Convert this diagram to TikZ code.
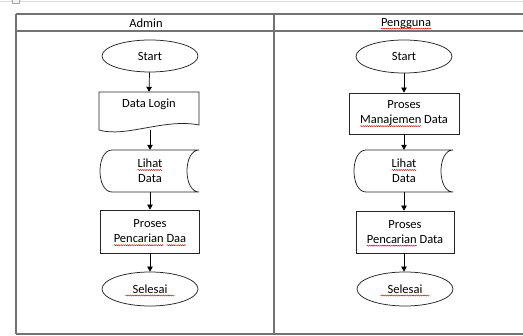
\documentclass[tikz,border=0pt]{standalone}
\usepackage{fontspec}
\setmainfont{Carlito}
\usetikzlibrary{shapes.geometric,arrows.meta,decorations.pathmorphing}

% word with a red wavy underline
\newcommand\wavyword[1]{\tikz[baseline=(ww.base)]{%
  \node[inner sep=0pt,outer sep=0pt,draw=none,minimum size=0pt] (ww) {#1};
  \draw[overlay,red!85!black,line width=0.45pt,decorate,
        decoration={snake,amplitude=0.55pt,segment length=2.2pt}]
    ([yshift=-2.2pt]ww.base west) -- ([yshift=-2.2pt]ww.base east);}}

\tikzset{
  grid/.style={draw=black!55,line width=1.1pt},
  flow/.style={draw=black!85,line width=0.75pt},
  term/.style={flow,ellipse,minimum width=96pt,minimum height=32pt,inner sep=0pt},
  procbox/.style={flow,rectangle,align=center,inner sep=0pt},
  ghost/.style={rectangle,inner sep=0pt,align=center},
  txt/.style={font=\fontsize{12.5}{15}\selectfont,text=black},
  link/.style={draw=black,line width=0.7pt,-{Triangle[width=5.5pt,length=5pt]}},
}

\begin{document}
\begin{tikzpicture}[x=1pt,y=-1pt,every node/.style={txt}]
\useasboundingbox (0,0) rectangle (523,336);
\fill[white] (0,0) rectangle (523,336);

% thin window edge at the top
\draw[black!15,line width=0.8pt] (0,1.5) -- (523,1.5);
\draw[black!35,line width=0.6pt,fill=black!5] (12,-1) rectangle (19,3);

% swimlane table
\draw[grid] (16,14) -- (523,14);
\draw[grid] (16,31) -- (523,31);
\draw[grid] (16,334) -- (523,334);
\draw[grid] (16,14) -- (16,334);
\draw[grid] (274,14) -- (274,334);
\node (hA) at (146,23.5) {Admin};
\node (hB) at (406,23.5) {\wavyword{Pengguna}};

% ---------- Admin lane ----------
\node[term] (startA) at (150,56) {Start};

\node[ghost,minimum width=100pt,minimum height=38pt] (loginA) at (149,111) {};
\draw[flow] (99,130) -- (99,92) -- (199,92) -- (199,125)
  .. controls (165,118) and (125,138) .. (99,130);
\node (loginAtxt) at (149,104) {Data Login};
\coordinate (loginAb) at (150,130.5);

\node[ghost,minimum width=99pt,minimum height=42pt] (lihatA) at (150,171)
  {\wavyword{Lihat}\\Data};
\draw[flow] (199,150) -- (112,150) .. controls (96,150) and (96,192) .. (112,192)
  -- (199,192) .. controls (183,192) and (183,150) .. (199,150);

\node[procbox,minimum width=99pt,minimum height=43pt] (cariA) at (150,231.5)
  {Proses\\\wavyword{Pencarian} \wavyword{Daa}};

\node[term,minimum height=34pt] (endA) at (150,289) {\wavyword{Selesai}};

\draw[link] (startA) -- (loginA.north);
\draw[link] (loginAb) -- (lihatA.north);
\draw[link] (lihatA.south) -- (cariA.north);
\draw[link] (cariA.south) -- (endA.north);

% ---------- Pengguna lane ----------
\node[term,minimum height=33pt] (startB) at (404,56.5) {Start};

\node[procbox,minimum width=110pt,minimum height=41pt] (kelolaB) at (404,113.5)
  {Proses\\\wavyword{Manajemen} Data};

\node[ghost,minimum width=99pt,minimum height=42pt] (lihatB) at (404,171)
  {\wavyword{Lihat}\\Data};
\draw[flow] (453,150) -- (366,150) .. controls (350,150) and (350,192) .. (366,192)
  -- (453,192) .. controls (437,192) and (437,150) .. (453,150);

\node[procbox,minimum width=98pt,minimum height=42pt] (cariB) at (405,232)
  {Proses\\\wavyword{Pencarian} Data};

\node[term,minimum height=34pt] (endB) at (405,289) {\wavyword{Selesai}};

\draw[link] (startB) -- (kelolaB);
\draw[link] (kelolaB) -- (lihatB.north);
\draw[link] (lihatB.south) -- (lihatB.south |- cariB.north);
\draw[link] (cariB.south -| lihatB.south) -- (lihatB.south |- endB.north);
\end{tikzpicture}
\end{document}
